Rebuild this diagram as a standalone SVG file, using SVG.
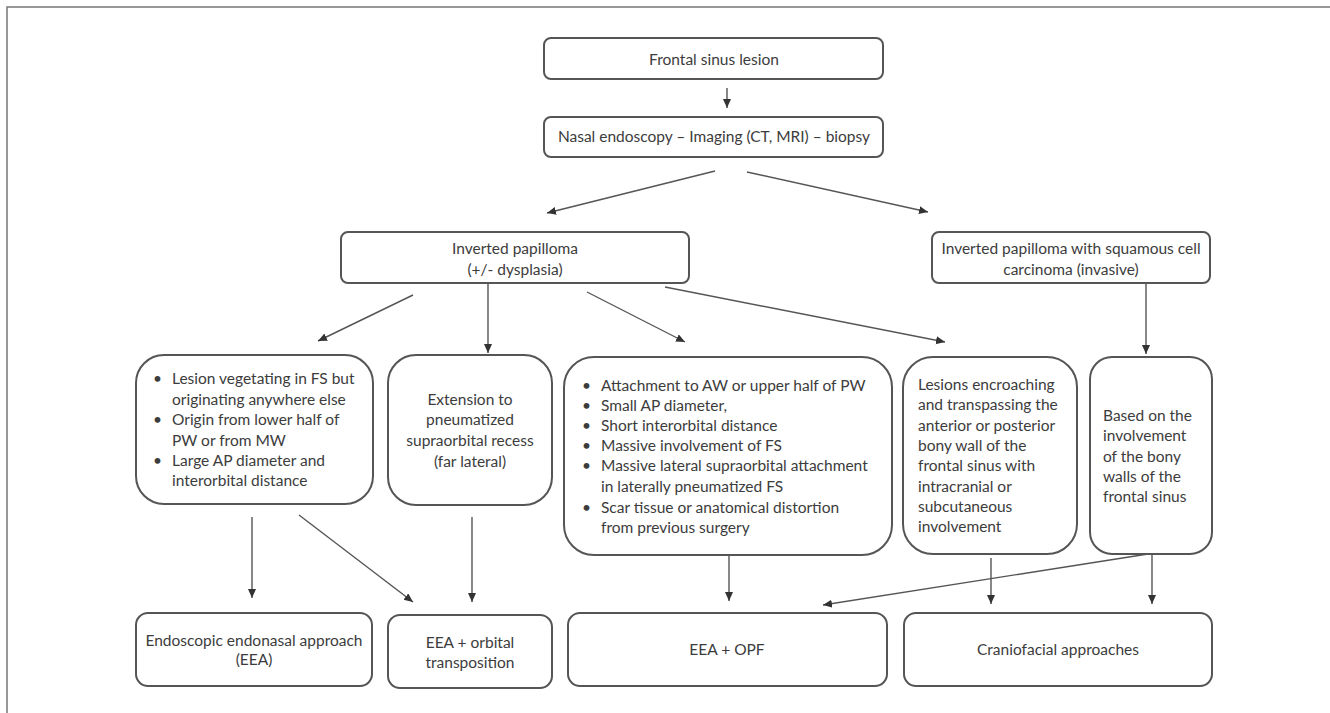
<svg xmlns="http://www.w3.org/2000/svg" width="1330" height="713" viewBox="0 0 1330 713">
<style>
.box{fill:#fff;stroke:#555;stroke-width:2}
.t{font-family:Lato,"Open Sans","Liberation Sans",sans-serif;font-size:15.5px;fill:#3c3c3c}
.c{text-anchor:middle}
.con line{stroke:#555;stroke-width:1.4;marker-end:url(#ah)}
.frame{fill:none;stroke:#777;stroke-width:1.5}
</style>
<defs>
<marker id="ah" markerUnits="userSpaceOnUse" markerWidth="10" markerHeight="9" refX="9" refY="4" orient="auto">
<path d="M0,0 L9,4 L0,8 z" fill="#333"/>
</marker>
</defs>
<rect width="1330" height="713" fill="#fff"/>
<path class="frame" d="M7,713 V7 H1330"/>

<g id="connectors" class="con">
<line x1="727" y1="88" x2="727" y2="108"/>
<line x1="715" y1="171" x2="547" y2="213"/>
<line x1="747" y1="172" x2="928" y2="212"/>
<line x1="413" y1="295" x2="318" y2="341"/>
<line x1="488" y1="283" x2="488" y2="353"/>
<line x1="587" y1="292" x2="685" y2="342"/>
<line x1="665" y1="287" x2="945" y2="342"/>
<line x1="1146" y1="283" x2="1146" y2="354"/>
<line x1="252" y1="517" x2="252" y2="598"/>
<line x1="299" y1="515" x2="413" y2="602"/>
<line x1="472" y1="517" x2="472" y2="602"/>
<line x1="729" y1="555" x2="729" y2="601"/>
<line x1="991" y1="558" x2="991" y2="604"/>
<line x1="1152" y1="554" x2="1152" y2="604"/>
<line x1="1148" y1="554" x2="823" y2="605"/>
</g>

<g id="n1"><rect class="box" x="544" y="38" width="339" height="41" rx="7"/><text class="t c" x="714" y="65">Frontal sinus lesion</text></g>
<g id="n2"><rect class="box" x="544" y="117" width="339" height="40" rx="7"/><text class="t c" x="714" y="142">Nasal endoscopy – Imaging (CT, MRI) – biopsy</text></g>
<g id="n3"><rect class="box" x="341" y="232" width="348" height="51" rx="7"/><text class="t c" x="515" y="254">Inverted papilloma</text><text class="t c" x="515" y="275">(+/- dysplasia)</text></g>
<g id="n4"><rect class="box" x="932" y="232" width="278" height="51" rx="7"/><text class="t c" x="1071" y="254">Inverted papilloma with squamous cell</text><text class="t c" x="1071" y="275">carcinoma (invasive)</text></g>

<g id="n5"><rect class="box" x="136" y="355" width="237" height="149" rx="28"/>
<text class="t" x="153" y="384">•</text><text class="t" x="172" y="384">Lesion vegetating in FS but</text>
<text class="t" x="172" y="405">originating anywhere else</text>
<text class="t" x="153" y="425">•</text><text class="t" x="172" y="425">Origin from lower half of</text>
<text class="t" x="172" y="446">PW or from MW</text>
<text class="t" x="153" y="466">•</text><text class="t" x="172" y="466">Large AP diameter and</text>
<text class="t" x="172" y="486">interorbital distance</text>
</g>
<g id="n6"><rect class="box" x="388" y="355" width="164" height="150" rx="28"/>
<text class="t c" x="470" y="405">Extension to</text>
<text class="t c" x="470" y="425">pneumatized</text>
<text class="t c" x="470" y="446">supraorbital recess</text>
<text class="t c" x="470" y="467">(far lateral)</text>
</g>
<g id="n7"><rect class="box" x="564" y="357" width="328" height="198" rx="30"/>
<text class="t" x="582" y="391">•</text><text class="t" x="601" y="391">Attachment to AW or upper half of PW</text>
<text class="t" x="582" y="411">•</text><text class="t" x="601" y="411">Small AP diameter,</text>
<text class="t" x="582" y="431">•</text><text class="t" x="601" y="431">Short interorbital distance</text>
<text class="t" x="582" y="451">•</text><text class="t" x="601" y="451">Massive involvement of FS</text>
<text class="t" x="582" y="471">•</text><text class="t" x="601" y="471">Massive lateral supraorbital attachment</text>
<text class="t" x="601" y="492">in laterally pneumatized FS</text>
<text class="t" x="582" y="513">•</text><text class="t" x="601" y="513">Scar tissue or anatomical distortion</text>
<text class="t" x="601" y="533">from previous surgery</text>
</g>
<g id="n8"><rect class="box" x="903" y="357" width="174" height="197" rx="30"/>
<text class="t" x="918" y="390">Lesions encroaching</text>
<text class="t" x="918" y="410">and transpassing the</text>
<text class="t" x="918" y="431">anterior or posterior</text>
<text class="t" x="918" y="451">bony wall of the</text>
<text class="t" x="918" y="471">frontal sinus with</text>
<text class="t" x="918" y="492">intracranial or</text>
<text class="t" x="918" y="512">subcutaneous</text>
<text class="t" x="918" y="532">involvement</text>
</g>
<g id="n9"><rect class="box" x="1090" y="357" width="122" height="197" rx="22"/>
<text class="t" x="1103" y="421">Based on the</text>
<text class="t" x="1103" y="441">involvement</text>
<text class="t" x="1103" y="462">of the bony</text>
<text class="t" x="1103" y="482">walls of the</text>
<text class="t" x="1103" y="502">frontal sinus</text>
</g>

<g id="n10"><rect class="box" x="136" y="613" width="236" height="73" rx="12"/><text class="t c" x="254" y="646">Endoscopic endonasal approach</text><text class="t c" x="254" y="665">(EEA)</text></g>
<g id="n11"><rect class="box" x="388" y="615" width="164" height="73" rx="12"/><text class="t c" x="470" y="648">EEA + orbital</text><text class="t c" x="470" y="668">transposition</text></g>
<g id="n12"><rect class="box" x="568" y="613" width="319" height="73" rx="12"/><text class="t c" x="727" y="655">EEA + OPF</text></g>
<g id="n13"><rect class="box" x="904" y="613" width="308" height="73" rx="12"/><text class="t c" x="1058" y="655">Craniofacial approaches</text></g>
</svg>
